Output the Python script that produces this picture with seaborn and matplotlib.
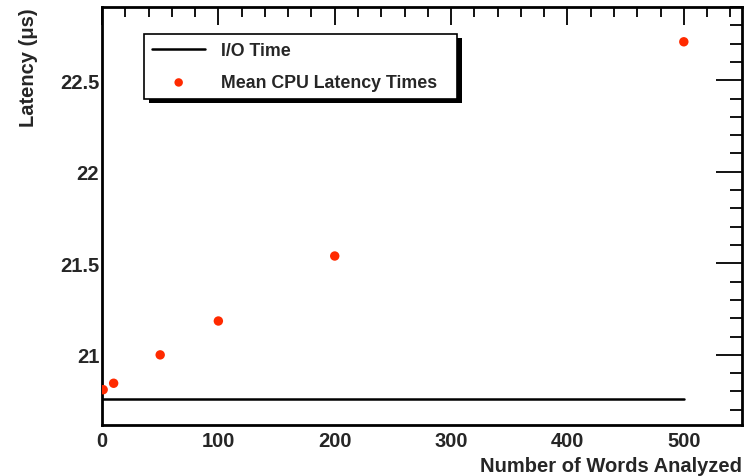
import matplotlib
matplotlib.use("Agg")
import matplotlib.pyplot as plt
import matplotlib.ticker as mticker
from matplotlib.patches import Rectangle
import seaborn as sns
import pandas as pd

# Measured latencies
words = [1, 10, 50, 100, 200, 500]
cpu_latency = [20.81, 20.845, 21.0, 21.185, 21.54, 22.71]
io_x = [0, 500]
io_time = [20.76, 20.76]

sns.set_theme(style="white")
plt.rcParams["font.family"] = ["Liberation Sans", "DejaVu Sans"]
plt.rcParams["font.weight"] = "bold"

fig = plt.figure(figsize=(7.53, 4.77), dpi=100)
ax = fig.add_axes([102 / 753, 1 - 426 / 477, 640 / 753, 418 / 477])

io_df = pd.DataFrame({"x": io_x, "y": io_time})
cpu_df = pd.DataFrame({"x": words, "y": cpu_latency})

sns.lineplot(data=io_df, x="x", y="y", ax=ax, color="black", linewidth=1.8,
             label="I/O Time")
sns.scatterplot(data=cpu_df, x="x", y="y", ax=ax, color="#ff2a00", s=46,
                edgecolor="none", label="Mean CPU Latency Times", zorder=3)

ax.set_xlim(0, 550)
ax.set_ylim(20.617, 22.9)

ax.xaxis.set_major_locator(mticker.MultipleLocator(100))
ax.xaxis.set_minor_locator(mticker.MultipleLocator(20))
ax.yaxis.set_major_locator(mticker.MultipleLocator(0.5))
ax.yaxis.set_minor_locator(mticker.MultipleLocator(0.1))
ax.yaxis.set_major_formatter(mticker.FuncFormatter(lambda v, p: f"{v:g}"))

ax.tick_params(which="both", direction="in", top=True, right=True,
               color="black", width=1.3)
ax.tick_params(axis="x", which="major", length=13, labelsize=14.5, pad=4)
ax.tick_params(axis="x", which="minor", length=7)
ax.tick_params(axis="y", which="major", length=19, labelsize=14.5, pad=2)
ax.tick_params(axis="y", which="minor", length=9)
for lab in ax.get_xticklabels() + ax.get_yticklabels():
    lab.set_fontweight("bold")

for sp in ax.spines.values():
    sp.set_color("black")
    sp.set_linewidth(2)

ax.set_xlabel("Number of Words Analyzed", fontsize=14.5, fontweight="bold",
              loc="right", labelpad=5)
ax.set_ylabel("Latency (μs)", fontsize=14.5, fontweight="bold",
              loc="top", labelpad=16)

leg = ax.legend(loc="upper left",
                bbox_to_anchor=(42 / 640, 329 / 418, 313 / 640, 62 / 418),
                mode="expand",
                frameon=True, fancybox=False, edgecolor="black",
                framealpha=1, prop={"weight": "bold", "size": 12.8},
                handlelength=3.0, handletextpad=0.9, borderpad=0.45,
                labelspacing=0.85, borderaxespad=0, markerscale=0.9)
leg.get_frame().set_linewidth(1.2)

# Solid drop shadow behind the legend box
fig.canvas.draw()
bb = leg.get_frame().get_window_extent().transformed(fig.transFigure.inverted())
dx, dy = 5 / 753, 4 / 477
shadow = Rectangle((bb.x0 + dx, bb.y0 - dy), bb.width, bb.height,
                   transform=fig.transFigure, facecolor="black",
                   edgecolor="none", zorder=leg.get_zorder() - 0.1)
ax.add_artist(shadow)
shadow.set_clip_on(False)

fig.savefig("out.png", dpi=100, facecolor="white")
